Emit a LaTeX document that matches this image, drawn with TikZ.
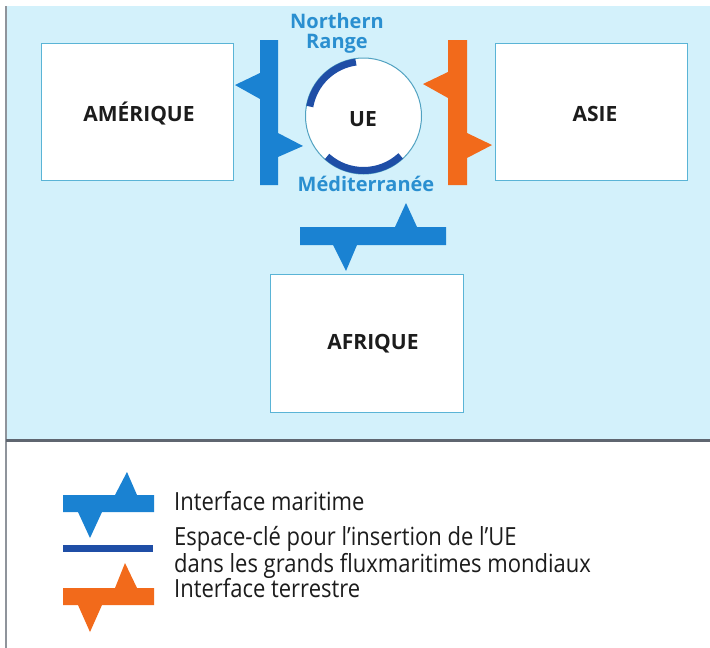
\documentclass[tikz,border=0pt]{standalone}
\usepackage{fontspec}
\setmainfont{Open Sans}
\newfontfamily\boxfont{Open Sans}[BoldFont={Open Sans Bold}]
\newfontfamily\legfont{Open Sans}[FakeStretch=0.88]
\definecolor{sea}{HTML}{D3F1FB}
\definecolor{maritime}{HTML}{1A82D2}
\definecolor{keyblue}{HTML}{1F4EA6}
\definecolor{land}{HTML}{F26A1B}
\definecolor{labelblue}{HTML}{2A8FD0}
\definecolor{edge}{HTML}{5AB4D6}
\definecolor{frame}{HTML}{5F6670}
\definecolor{ink}{HTML}{1C1C1C}
\tikzset{
  region/.style={draw=edge, line width=1pt, fill=white},
  regionlabel/.style={anchor=base, inner sep=0pt, text=ink,
    font=\boxfont\bfseries\fontsize{21}{21}\selectfont},
  zonelabel/.style={anchor=base, inner sep=0pt, text=labelblue, align=center,
    font=\boxfont\bfseries\fontsize{20}{20}\selectfont},
  legtext/.style={anchor=base west, inner sep=0pt, text=ink, align=left,
    font=\legfont\fontsize{25}{22}\selectfont},
  maritimeshape/.style={fill=maritime, draw=none},
  landshape/.style={fill=land, draw=none},
  keyarc/.style={draw=keyblue, line width=7pt, line cap=butt},
}
\begin{document}
\begin{tikzpicture}[x=1pt, y=-1pt]
\useasboundingbox (0,0) rectangle (710,648);
% sea background and frame
\fill[white] (0,0) rectangle (710,648);
\fill[sea] (6,6) rectangle (710,440);
\draw[frame!70, line width=2pt] (6,6) -- (6,648);
\draw[frame, line width=2.2pt] (6,440.5) -- (710,440.5);

% regions
\draw[region] (41,43) rectangle (233,180);
\node[regionlabel] (amerique) at (139,121) {AMÉRIQUE};
\draw[region] (495,43) rectangle (687,180);
\node[regionlabel] (asie) at (595,121) {ASIE};
\draw[region] (270,274) rectangle (463,412);
\node[regionlabel] (afrique) at (373,349) {AFRIQUE};

% European Union (y axis points down, so angles run clockwise)
\coordinate (uec) at (363.5,116);
\draw[draw=edge!90!black, line width=1pt, fill=white] (uec) circle[radius=58];
\draw[keyarc] (uec) ++(-170:54.5) arc[start angle=-170, end angle=-98, radius=54.5];
\draw[keyarc] (uec) ++(47:54.5) arc[start angle=47, end angle=132, radius=54.5];
\node[regionlabel] (ue) at (363,126) {UE};
\node[zonelabel] (northern) at (337,28) {Northern};
\node[zonelabel] (range) at (337,48) {Range};
\node[zonelabel] (med) at (366,191) {Méditerranée};

% interface with America (maritime)
\fill[maritimeshape] (260,40) -- (278,40) -- (278,133) -- (303,146) -- (278,157)
  -- (278,185) -- (260,185) -- (260,99) -- (235,85) -- (260,73) -- cycle;
% interface with Asia (land)
\fill[landshape] (448,40) -- (467,40) -- (467,133) -- (492,145) -- (467,158)
  -- (467,185) -- (448,185) -- (448,98) -- (423,84) -- (448,72) -- cycle;
% interface with Africa (maritime)
\fill[maritimeshape] (300,227) -- (395,227) -- (406,203) -- (417,227) -- (446,227)
  -- (446,245) -- (357,245) -- (346,271) -- (333,245) -- (300,245) -- cycle;

% legend
\fill[maritimeshape] (63,495) -- (115,495) -- (127,472) -- (137,495) -- (154,495)
  -- (154,512) -- (102,512) -- (90,538) -- (78,512) -- (63,512) -- cycle;
\fill[keyblue] (63,545) rectangle (153,552);
\fill[landshape] (63,588) -- (115,588) -- (125,563) -- (137,588) -- (154,588)
  -- (154,605) -- (102,605) -- (90,632) -- (78,605) -- (63,605) -- cycle;
\node[legtext] (l1) at (174,510) {Interface maritime};
% two-line entry: the base anchor sits on its last line
\node[legtext] (l2) at (174,572) {Espace-clé pour l’insertion de l’UE\\dans les grands fluxmaritimes mondiaux};
\node[legtext] (l4) at (174,597) {Interface terrestre};
\end{tikzpicture}
\end{document}
